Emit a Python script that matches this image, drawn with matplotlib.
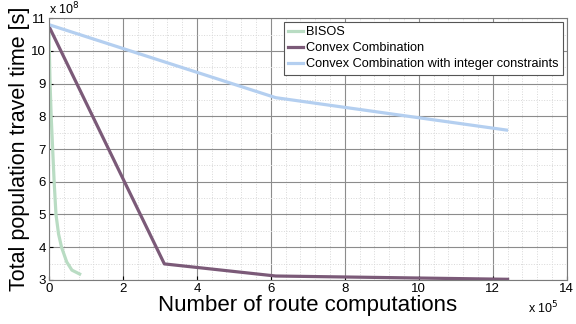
import matplotlib
matplotlib.use("Agg")
import matplotlib.pyplot as plt
from matplotlib.ticker import MultipleLocator

plt.rcParams['font.family'] = ['Liberation Sans', 'DejaVu Sans']

# route computations (x 1e5) and travel time (x 1e8)
bisos_x = [0.0, 0.01, 0.03, 0.06, 0.1, 0.14, 0.19, 0.26, 0.34, 0.48, 0.62, 0.83]
bisos_y = [10.75, 10.0, 9.0, 8.0, 7.0, 6.0, 5.0, 4.4, 4.0, 3.55, 3.3, 3.18]
cc_x = [0.0, 3.12, 6.13, 12.4]
cc_y = [10.75, 3.49, 3.12, 3.02]
cci_x = [0.0, 6.13, 12.37]
cci_y = [10.8, 8.57, 7.58]
labels = ['BISOS', 'Convex Combination', 'Convex Combination with integer constraints']

fig = plt.figure(figsize=(5.76, 3.24), dpi=100)
ax = fig.add_axes([0.085, 0.136, 0.899, 0.808])

ax.plot(bisos_x, bisos_y, color='#b9dcc3', lw=2.3, label=labels[0])
ax.plot(cc_x, cc_y, color='#7b5a78', lw=2.3, label=labels[1])
ax.plot(cci_x, cci_y, color='#b4cff0', lw=2.3, label=labels[2])

ax.set_xlim(0, 14)
ax.set_ylim(3, 11)
ax.xaxis.set_major_locator(MultipleLocator(2))
ax.xaxis.set_minor_locator(MultipleLocator(0.4))
ax.yaxis.set_major_locator(MultipleLocator(1))
ax.yaxis.set_minor_locator(MultipleLocator(0.5))
ax.grid(which='major', color='#8c8c8c', lw=0.8)
ax.grid(which='minor', color='#d8d8d8', lw=0.7, ls=':')
ax.tick_params(which='both', direction='in', labelsize=9.5, length=3, pad=2)
ax.tick_params(which='minor', length=0)
for s in ax.spines.values():
    s.set_color('#7a7a7a')

ax.set_xlabel('Number of route computations', fontsize=16, labelpad=0)
ax.set_ylabel('Total population travel time [s]', fontsize=15.5, labelpad=1)
ax.text(0.0, 1.005, 'x 10$^8$', transform=ax.transAxes, fontsize=9, va='bottom')
ax.text(0.925, -0.075, 'x 10$^5$', transform=ax.transAxes, fontsize=9, va='top')

leg = ax.legend(loc='upper right', fontsize=9.2, handlelength=1.2, handletextpad=0.2,
                borderpad=0.35, labelspacing=0.3, fancybox=False, framealpha=1,
                borderaxespad=0.3)
leg.get_frame().set_edgecolor('#555555')
leg.get_frame().set_linewidth(0.8)

fig.savefig('out.png', dpi=100)
